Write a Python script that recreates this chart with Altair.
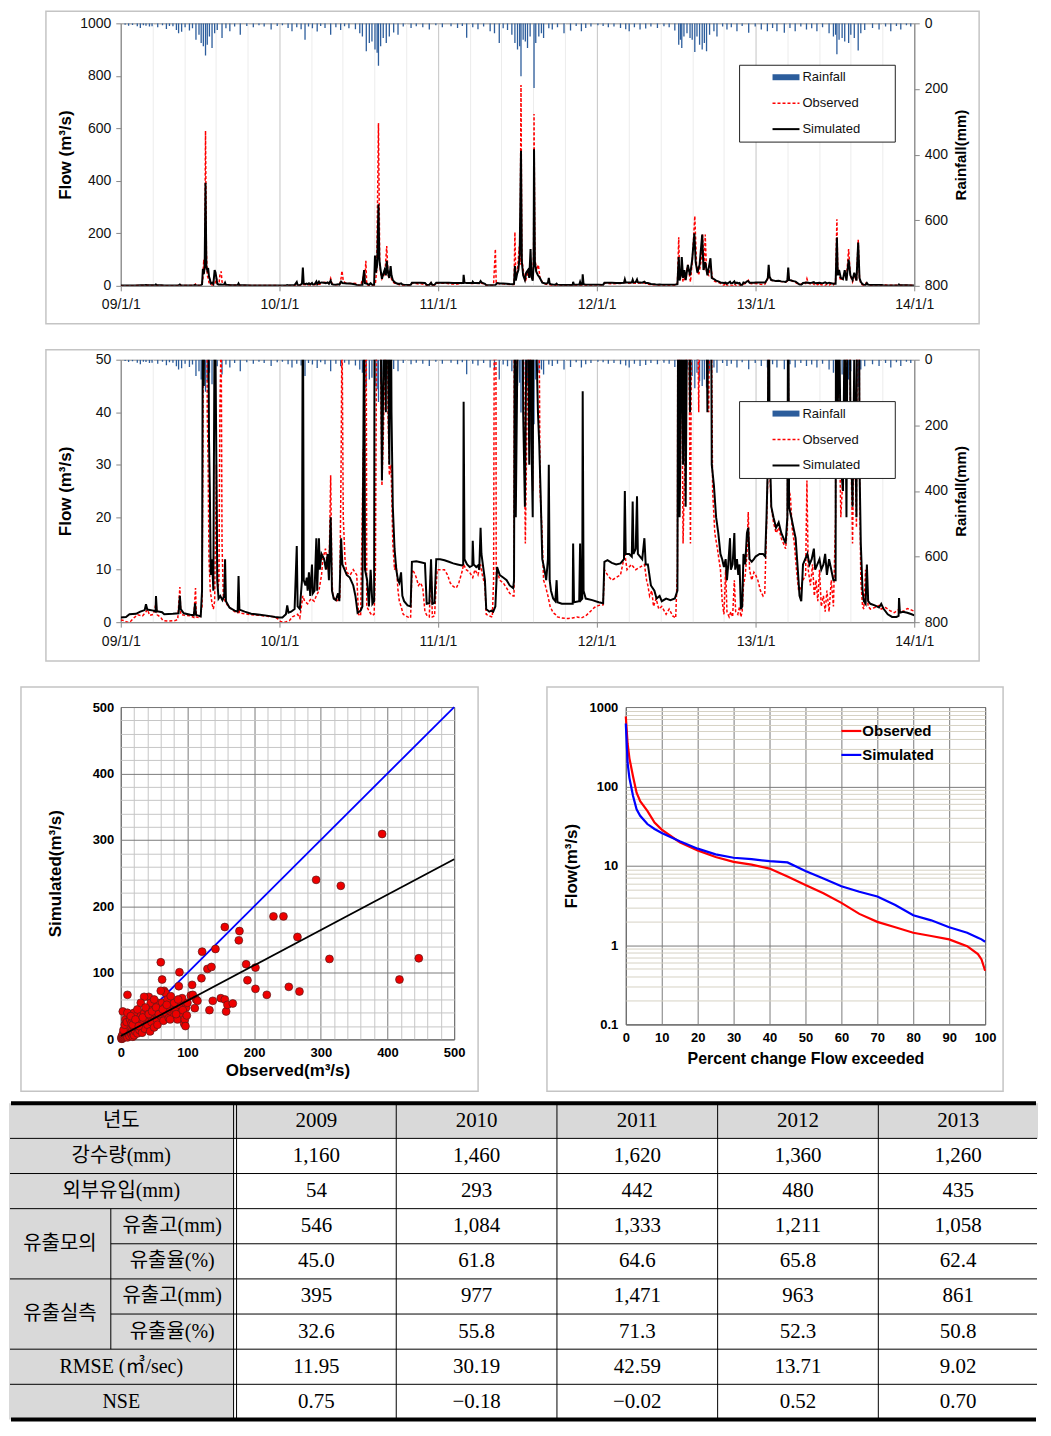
import altair as alt
import pandas as pd

# ------------------------------------------------------------------ data
# daily flow series: (day offset from 2009-01-01, flow m3/s)
sim_series = [
(0,0.9),(12,1.0),(20,1.5),(35,1.6),(45,2.0),(55,2.3),(58,3.4),(61,2.4),(75,2.2),(80,2.0),(81,5.0),(83,2.1),(95,1.9),(100,1.5),(120,1.6),(133,1.7),(136,5.0),(138,2.5),(145,1.7),(160,1.4),(168,1.3),(171,3.6),(173,1.4),(184,1.1),(187,6),(189,65),(191,45),(193,70),(195,393),(197,72),(199,60),(201,68),(203,35),(205,25),(207,9),(210,12),(213,6),(216,60),(218,51),(220,30),(222,8),(225,4.5),(229,5),(234,4.2),(238,5),(240,12),(242,4),(250,2.8),(262,2.2),(269,2.0),(271,8.8),(273,2.4),(285,2.0),(300,1.6),(320,1.4),(340,1.2),(355,1.0),
(365,0.9),(372,0.9),(380,1.5),(383,3.2),(386,1.8),(392,2.0),(400,2.5),(405,14.5),(407,3),(412,2.5),(417,8),(419,70),(421,8),(425,7),(428,8.5),(430,6),(433,9.5),(436,5),(440,11),(442,5.5),(446,6),(450,16),(452,6),(456,16),(458,10),(462,13),(468,12),(472,10),(476,13),(479,8),(483,20),(486,6),(490,4.5),(495,4.2),(500,5.5),(503,4),(507,16),(510,11),(515,10),(520,9),(527,8.5),(535,7),(540,5),(545,1.8),(552,2.2),(556,3),(560,60),(562,10),(567,8),(571,3),(575,10),(579,3.5),(583,4),(585,115),(587,50),(590,80),(593,311),(595,100),(598,60),(601,27),(604,45),(607,60),(610,40),(612,95),(615,50),(618,30),(621,75),(623,40),(626,22),(630,14),(634,10),(638,8),(641,7.5),(645,9.5),(648,5),(652,4),(660,3.2),(667,3),(670,11.5),(680,11.6),(690,11.4),(700,11.2),(704,3.5),(710,3.6),(714,12),(717,3.5),(722,3.7),(726,12),
(735,12),(745,11.8),(755,11.5),(765,11.2),(775,11),(785,10.8),(788,11),(789,42),(791,12),(797,11),(803,10.5),(809,10.8),(810,15.5),(812,11),(818,10.5),(822,10.8),(825,10),(828,18),(830,13),(834,10.5),(838,8),(841,2.5),(848,2),(853,2.2),(857,2.0),(862,3),(866,10.5),(872,9),(880,8.5),(888,8),(895,7),(903,6.5),(905,8),(907,75),(909,20),(912,45),(915,60),(918,120),(921,515),(923,90),(926,40),(930,22),(933,50),(937,60),(940,30),(943,140),(945,35),(948,20),(950,80),(951,520),(953,90),(956,55),(960,40),(963,34),(966,25),(970,12),(975,10),(979,8),(983,12),(985,30),(987,8),(990,6),(995,4.5),(1000,4),(1003,8),(1005,3.8),(1015,3.5),(1030,3.5),(1040,3.5),(1041,15),(1043,3.8),(1055,4),(1057,15),(1059,4.2),(1062,4.5),(1063,44),(1065,6),(1070,4.5),(1085,4.2),(1100,3.8),(1110,3.6),
(1113,11.5),(1120,11.8),(1130,11.3),(1140,11.0),(1150,11.2),(1158,12),(1160,25),(1162,13),(1170,13),(1176,12.5),(1178,23),(1180,13),(1185,14),(1188,24),(1190,13),(1195,12.5),(1200,12),(1205,16),(1208,11),(1213,11),(1220,7),(1228,6),(1233,4.5),(1240,5),(1245,4),(1255,4.5),(1265,4.2),(1275,4.5),(1281,6),(1284,110),(1286,20),(1289,40),(1291,110),(1294,30),(1297,60),(1300,22),(1305,80),(1310,40),(1315,100),(1320,200),(1323,90),(1327,50),(1332,80),(1338,195),(1341,60),(1345,90),(1350,40),(1357,105),(1360,30),(1365,26),(1370,20),(1375,17),(1380,13),(1384,12),(1388,10.5),(1392,12),(1395,8),(1398,11),(1402,16),(1404,10),(1408,11),(1412,17),(1414,10),(1418,12),(1421,9),(1424,11),(1427,2.5),(1430,3),(1433,13),(1437,11),(1441,17),(1444,18),(1447,12),(1452,11.5),(1457,12),
(1461,12.5),(1470,13),(1478,13),(1483,12.5),(1486,20),(1489,30),(1491,80),(1493,35),(1497,22),(1502,20),(1508,18),(1514,19),(1520,17),(1525,16),(1530,15),(1534,20),(1536,70),(1538,22),(1543,20),(1548,18),(1553,16),(1558,10),(1562,5),(1566,4),(1570,11),(1575,12),(1580,13),(1585,11),(1590,12),(1595,14),(1598,10),(1603,11),(1608,12),(1612,10),(1617,11),(1621,13),(1625,9),(1630,12),(1635,10),(1640,8),(1645,8),(1648,184),(1650,40),(1653,60),(1657,30),(1662,25),(1666,60),(1670,20),(1675,100),(1679,40),(1684,22),(1688,50),(1693,20),(1697,165),(1700,30),(1703,15),(1707,6),(1710,4),(1714,3.5),(1717,11),(1720,4),(1725,3.5),(1735,3.2),(1745,2.8),(1750,3.5),(1755,2.6),(1765,1.5),(1775,1.0),(1785,1.0),(1790,1.2),(1791,4.6),(1793,1.8),(1800,2.0),(1810,1.8),(1820,1.5),(1826,1.3)]

obs_series = [
(0,0.4),(8,0.3),(14,0.0),(22,0.1),(30,0.8),(39,1.4),(50,1.2),(58,2.0),(62,2.4),(66,1.3),(75,1.5),(81,3.5),(84,1.4),(92,0.9),(97,0.3),(110,0.2),(125,0.3),(131,0.5),(136,6.7),(138,1.5),(147,1.3),(160,1.2),(168,0.9),(172,6.5),(174,1.0),(182,0.8),(187,3),(189,30),(191,100),(193,60),(195,590),(197,130),(199,40),(201,30),(203,12),(206,6),(210,3.5),(213,2.5),(216,4),(220,30),(223,6),(226,8),(228,40),(231,55),(233,15),(236,5),(240,4),(247,3),(255,2.5),(262,2.0),(269,1.8),(271,3.0),(273,1.8),(285,1.6),(300,1.4),(320,1.3),(340,1.1),(355,1.0),(362,0.6),
(368,0.1),(378,0.0),(388,0.3),(395,1.0),(407,1.5),(412,0.8),(419,5),(423,4),(430,3.5),(438,4.5),(445,4),(450,5),(456,6),(462,9),(465,12),(471,14),(477,10),(480,13),(483,28),(486,8),(488,5),(496,4),(504,4.5),(507,30),(509,57),(512,20),(516,12),(520,9.5),(528,9),(535,10),(543,9),(547,1.5),(552,1.2),(558,33),(561,10),(564,95),(566,3),(572,2),(578,1.3),(583,1.5),(586,10),(589,60),(593,620),(596,80),(599,40),(601,26),(604,35),(608,50),(612,152),(615,40),(618,28),(622,30),(626,15),(630,10),(634,11),(638,6),(641,4),(645,3),(650,1.5),(660,1.0),(667,0.8),(670,10),(675,9.5),(680,8.5),(685,7),(690,7.5),(695,6.5),(700,2),(705,1.2),(710,1),(714,11),(717,1),(722,1.2),(728,10),
(735,10),(745,10),(752,9),(758,7.5),(765,6.8),(772,6.5),(778,7.5),(785,9.5),(789,11),(795,10),(803,9.5),(810,8.5),(815,10),(822,9),(828,11),(832,9),(838,7),(841,1.5),(848,1.2),(855,1.0),(858,8),(862,140),(864,8),(866,10),(872,8),(880,7.5),(888,6.5),(895,5.5),(903,5),(905,5),(907,205),(909,30),(913,60),(917,150),(919,80),(921,765),(923,100),(928,40),(931,15),(935,40),(940,60),(945,40),(948,25),(950,120),(951,655),(953,100),(957,60),(961,80),(965,25),(969,18),(973,8),(977,7),(983,5),(988,3),(995,1.8),(1000,1.5),(1005,1.0),(1015,0.8),(1030,0.7),(1040,0.8),(1050,1.0),(1060,0.8),(1070,1.2),(1080,2),(1090,2.8),(1100,3.2),(1110,3.3),
(1113,10),(1120,9),(1130,8),(1140,8.5),(1150,9),(1160,13),(1165,10),(1175,11),(1185,10),(1195,10.5),(1205,11),(1210,8),(1213,7),(1217,5),(1222,6),(1226,3),(1232,4.5),(1238,2.5),(1245,3),(1255,1.5),(1262,2.5),(1270,1.2),(1277,0.8),(1281,10),(1284,185),(1286,30),(1290,60),(1294,15),(1300,40),(1305,80),(1311,15),(1315,90),(1321,266),(1325,80),(1330,40),(1336,100),(1339,195),(1342,60),(1345,195),(1348,50),(1353,40),(1357,80),(1362,25),(1367,17),(1373,14),(1380,10),
(1384,4),(1388,1.5),(1392,10),(1395,2),(1400,1),(1404,2),(1408,1),(1412,8),(1415,2),(1420,1.5),(1424,3),(1427,1),(1430,2),(1433,7),(1437,9),(1441,13),(1444,21),(1447,10),(1452,8),(1457,9.5),(1461,9),(1466,8),(1472,6),(1478,5),(1482,5.5),(1486,18),(1489,28),(1491,60),(1493,30),(1497,22),(1502,19),(1508,17),(1514,18),(1520,16),(1525,15),(1530,14),(1534,18),(1536,50),(1538,25),(1541,24),(1545,18),(1550,15),(1555,10),(1560,6),(1565,6.5),(1570,8),(1576,9),(1579,27),(1582,10),(1587,7),(1592,11),(1596,5),(1600,8),(1604,4),(1608,10),(1612,3),(1617,5),(1621,2),(1625,6),(1630,2),(1635,8),(1640,3),(1645,20),(1648,254),(1650,50),(1653,40),(1657,20),(1662,28),(1666,50),(1670,30),(1675,140),(1679,40),(1684,15),(1688,40),(1693,18),(1697,175),(1700,30),(1703,8),(1707,3),(1710,2.5),(1714,10),(1717,6),(1720,3),(1725,2.5),(1735,2.8),(1745,3.2),(1750,2.5),(1760,2.8),(1770,2.2),(1780,1.8),(1790,2.4),(1800,2.0),(1810,2.6),(1820,2.3),(1826,2.1)]

# daily rainfall: (day offset from 2009-01-01, mm)
rain_series = [
(10,4),(18,7),(27,5),(38,9),(45,14),(52,6),(58,7),(66,10),(72,9),(85,12),(96,6),(105,17),(112,8),(120,9),(128,20),(133,30),(140,26),(148,12),(158,22),(165,15),(173,50),(180,35),(185,60),(190,70),(195,98),(199,65),(204,40),(210,75),(216,30),(222,20),(233,45),(242,15),(251,24),(262,10),(275,35),(290,8),(305,12),(318,6),(330,10),(346,19),(360,8),
(372,6),(385,14),(394,24),(405,12),(415,18),(424,50),(432,10),(441,15),(452,25),(460,8),(470,14),(483,35),(495,12),(506,20),(515,9),(525,15),(540,18),(550,30),(556,40),(565,85),(572,60),(578,55),(585,80),(590,90),(593,129),(598,70),(604,45),(611,60),(618,40),(628,28),(638,35),(650,10),(668,14),(680,9),(695,12),(710,19),(725,6),
(740,12),(760,9),(775,14),(786,8),(796,44),(810,12),(822,18),(835,10),(850,24),(860,30),(871,60),(880,15),(890,20),(900,35),(907,60),(913,80),(918,70),(921,161),(926,50),(931,55),(936,75),(942,40),(951,197),(955,60),(962,40),(968,30),(973,45),(985,15),(993,19),(1005,12),(1020,30),(1035,22),(1048,8),(1060,24),(1070,14),(1082,10),
(1098,6),(1110,8),(1122,12),(1135,10),(1150,14),(1162,18),(1170,24),(1182,12),(1195,19),(1208,16),(1220,10),(1235,14),(1250,9),(1262,12),(1275,22),(1284,65),(1288,50),(1291,75),(1296,40),(1303,30),(1310,45),(1315,50),(1321,87),(1326,40),(1332,65),(1338,80),(1343,60),(1348,85),(1355,35),(1365,24),(1372,40),(1385,10),(1395,19),(1405,12),(1418,24),(1430,8),(1445,29),
(1460,10),(1474,19),(1488,24),(1500,14),(1510,24),(1527,29),(1540,14),(1552,24),(1565,10),(1578,19),(1590,15),(1602,24),(1615,12),(1630,30),(1640,40),(1645,35),(1648,94),(1653,50),(1660,45),(1666,55),(1675,60),(1680,35),(1688,45),(1697,83),(1703,30),(1712,20),(1730,14),(1745,19),(1760,10),(1772,24),(1785,8),(1795,19),(1808,6),(1818,10)]

# scatter: (observed, simulated) m3/s
scatter_pts = [
(1,1),(2,1),(1,3),(3,2),(2,5),(4,3),(5,6),(3,8),(6,4),(7,9),(8,5),(5,12),(9,7),(10,3),(10,10),(12,8),(11,14),(13,5),(14,11),(15,16),(16,8),(12,20),(8,18),(17,13),(18,4),(19,10),(20,15),(4,14),(6,22),(7,30),(9,26),(3,42),(10,67),(14,30),(16,24),(20,6),(22,12),(24,18),(25,9),(26,28),(28,14),(30,20),(29,36),(32,10),(34,25),(35,40),(36,16),(38,30),(40,22),(40,45),(42,64),(35,64),(44,12),(45,35),(46,26),(48,50),(50,18),(52,40),(54,30),(55,22),(56,55),(58,45),(60,35),(60,116),(62,90),(62,55),(64,28),(65,73),(67,70),(60,73),(66,48),(68,40),(70,60),(72,32),(75,42),(78,50),(80,35),(82,45),(85,30),(88,101),(87,80),(88,52),(90,40),(92,62),(95,24),(96,30),(97,20),(98,48),(100,55),(105,66),(107,82),(108,67),(111,47),(113,60),(115,58),(121,92),(122,132),(130,106),(133,44),(136,109),(138,58),(142,136),(150,62),(156,169),(156,60),(158,42),(160,52),(168,54),(177,149),(178,163),(188,113),(190,89),(202,108),(202,76),(219,67),(229,185),(244,185),(252,79),(265,154),(268,72),(293,240),(313,121),(330,231),(392,309),(418,90),(447,122),(10,40),(20,40),(25,45),(30,55),(15,35),(45,55),(50,60),(70,45),(80,55),(75,65),(18,22),(22,30),(27,20),(33,33),(37,48),(42,38),(47,42),(53,48),(57,38),(63,45),(69,52),(74,30),(83,38),(86,60),(93,44),(99,36)]
one_to_one_obs = [0, 500]
one_to_one_sim = [0, 500]
trend_obs = [0, 500]
trend_sim = [5, 271]

# flow duration curve
fdc_pct = [0,0.5,1,2,3,4,6,8,10,15,20,25,30,35,40,45,50,55,60,65,70,75,80,85,90,95,98,99,100]
fdc_obs = [760,347,227,134,83,65,49,35,28.5,19.8,15.6,12.9,11.2,10.3,9.2,7.3,5.7,4.5,3.4,2.47,1.96,1.68,1.43,1.30,1.18,0.97,0.77,0.66,0.475]
fdc_sim = [620,197,128,76,51.5,42.6,33.5,29,25.9,20.4,16.4,13.9,12.6,12.1,11.4,11.0,8.6,6.9,5.5,4.7,4.1,3.2,2.37,2.05,1.68,1.43,1.24,1.18,1.10]

# table
tbl_years = [2009, 2010, 2011, 2012, 2013]
tbl_rain = [1160, 1460, 1620, 1360, 1260]
tbl_inflow = [54, 293, 442, 480, 435]
tbl_sim_depth = [546, 1084, 1333, 1211, 1058]
tbl_sim_ratio = [45.0, 61.8, 64.6, 65.8, 62.4]
tbl_obs_depth = [395, 977, 1471, 963, 861]
tbl_obs_ratio = [32.6, 55.8, 71.3, 52.3, 50.8]
tbl_rmse = [11.95, 30.19, 42.59, 13.71, 9.02]
tbl_nse = [0.75, -0.18, -0.02, 0.52, 0.70]

# ------------------------------------------------------------------ frames
BASE = pd.Timestamp("2009-01-01")


def to_dates(days):
    return [(BASE + pd.Timedelta(days=d)).strftime("%Y-%m-%d") for d in days]


sim_df = pd.DataFrame({"date": to_dates([p[0] for p in sim_series]), "flow": [p[1] for p in sim_series]})
obs_df = pd.DataFrame({"date": to_dates([p[0] for p in obs_series]), "flow": [p[1] for p in obs_series]})
rain_df = pd.DataFrame({"date": to_dates([p[0] for p in rain_series]), "rain": [p[1] for p in rain_series]})
one = pd.DataFrame({"k": [0]})

FONT = "Liberation Sans"
RAIN_C = "#2c5d9c"
X0 = 120          # common page x of every row's plot origin
L = 8 - X0        # left page edge relative to origin
RGT = 1041 - X0   # right page edge relative to origin


def box(x1, x2, y1, y2, **kw):
    return alt.Chart(one).mark_rect(**kw).encode(
        x=alt.value(x1), x2=alt.value(x2), y=alt.value(y1), y2=alt.value(y2))


def anchor(x1, x2, y1, y2):
    return box(x1, x2, y1, y2, fill="white", opacity=0)


def hline(x1, x2, y, **kw):
    return alt.Chart(one).mark_rule(**kw).encode(x=alt.value(x1), x2=alt.value(x2), y=alt.value(y))


def label(txt, x, y, **kw):
    return alt.Chart(one).mark_text(text=txt, align="left", baseline="middle", **kw).encode(
        x=alt.value(x), y=alt.value(y))


def cond(test, a, b):
    return {"condition": {"test": test, "value": a}, "value": b}


# ------------------------------------------------------------------ time-series panels
tick_dates = []
for yr in range(2009, 2014):
    for (m, d) in [(1, 1), (3, 15), (5, 27), (8, 8), (10, 20)]:
        tick_dates.append(alt.DateTime(year=yr, month=m, date=d, utc=True))
tick_dates.append(alt.DateTime(year=2014, month=1, date=1, utc=True))
is_year = "utcmonth(datum.value) == 0 && utcdate(datum.value) == 1"

x_axis = alt.Axis(values=tick_dates,
                  labelExpr=f"{is_year} ? utcFormat(datum.value, '%y/%-m/%-d') : ''",
                  gridColor=cond(is_year, "#c4c4c4", "#ececec"),
                  tickColor=cond(is_year, "#888888", "transparent"),
                  domainColor="#888888", tickSize=5, labelPadding=7,
                  labelFont=FONT, labelFontSize=14, labelColor="#111", labelFlush=False,
                  labelOverlap=False)
x_enc = alt.X("date:T", title=None, axis=x_axis,
              scale=alt.Scale(type="utc", nice=False,
                              domain=[alt.DateTime(year=2009, month=1, date=1, utc=True),
                                      alt.DateTime(year=2014, month=1, date=1, utc=True)]))

TS_W = 915 - X0


def ts_panel(ymax, step, major, title_pad, top_anchor, bottom_anchor, frame_top, frame_bottom):
    H = 263
    maj = f"datum.value % {major} == 0"
    flow_axis = alt.Axis(values=list(range(0, ymax + 1, step)), orient="left",
                         labelExpr=f"{maj} ? datum.label : ''", format="d",
                         gridColor=cond(maj, "#c8c8c8", "#ededed"),
                         tickColor=cond(maj, "#888888", "transparent"),
                         domainColor="#888888", tickSize=5, labelPadding=5,
                         labelFont=FONT, labelFontSize=14, labelColor="#111", labelFlush=False,
                         labelOverlap=False,
                         title="Flow (m³/s)", titleFont=FONT, titleFontSize=17,
                         titleFontWeight="bold", titlePadding=title_pad, titleColor="#000")
    rain_axis = alt.Axis(values=[0, 200, 400, 600, 800], orient="right", grid=False,
                         tickColor="#888888", domainColor="#888888", tickSize=5, labelPadding=5,
                         labelFont=FONT, labelFontSize=14, labelColor="#111", labelFlush=False,
                         title="Rainfall(mm)", titleFont=FONT, titleFontSize=15,
                         titleFontWeight="bold", titleAngle=270, titleBaseline="top",
                         titlePadding=6, titleColor="#000")
    y_flow = alt.Y("flow:Q", axis=flow_axis, scale=alt.Scale(domain=[0, ymax], nice=False, zero=True))

    rain = alt.Chart(rain_df).mark_rule(color=RAIN_C, strokeWidth=1.3, clip=True).encode(
        x=x_enc,
        y=alt.Y("rain:Q", axis=rain_axis, scale=alt.Scale(domain=[0, 800], reverse=True, nice=False)),
        y2=alt.datum(0))
    obs = alt.Chart(obs_df).mark_line(color="#ff0000", strokeWidth=1.5, strokeDash=[3, 2], clip=True).encode(
        x=x_enc, y=y_flow)
    sim = alt.Chart(sim_df).mark_line(color="#000000", strokeWidth=2, clip=True).encode(
        x=x_enc, y=y_flow)
    lines = alt.layer(obs, sim)

    lx = 740 - X0
    leg = [
        box(lx, lx + 156, 42, 119, fill="white", stroke="#222", strokeWidth=1),
        box(lx + 33, lx + 60, 51, 57, fill=RAIN_C),
        hline(lx + 33, lx + 60, 80, color="#ff0000", strokeDash=[3, 2], strokeWidth=1.5),
        hline(lx + 33, lx + 60, 106, color="#000", strokeWidth=2),
        label("Rainfall", lx + 63, 54, font=FONT, fontSize=13, color="#111"),
        label("Observed", lx + 63, 80, font=FONT, fontSize=13, color="#111"),
        label("Simulated", lx + 63, 106, font=FONT, fontSize=13, color="#111"),
    ]
    ch = alt.layer(
        anchor(L, RGT, top_anchor, bottom_anchor),
        box(45 - X0, 980 - X0, frame_top, frame_bottom, fill="transparent", stroke="#c4c4c4", strokeWidth=1.5),
        rain, lines, *leg
    ).resolve_scale(y="independent").properties(
        width=TS_W, height=H, view=alt.ViewBackground(stroke="#8c8c8c", strokeWidth=1))
    return ch


ts1 = ts_panel(1000, 40, 200, 5, -10, 318, -12, 301)
ts2 = ts_panel(50, 2, 10, 21, -17, 313, -10, 302)

# ------------------------------------------------------------------ scatter panel
sc_df = pd.DataFrame({"obs": [p[0] for p in scatter_pts], "sim": [p[1] for p in scatter_pts]})
l11_df = pd.DataFrame({"obs": one_to_one_obs, "sim": one_to_one_sim})
trend_df = pd.DataFrame({"obs": trend_obs, "sim": trend_sim})

sc_maj = "datum.value % 100 == 0"


def sc_axis(title, pad):
    return alt.Axis(values=list(range(0, 501, 20)), labelExpr=f"{sc_maj} ? datum.label : ''",
                    gridColor=cond(sc_maj, "#7a7a7a", "#c6c6c6"), ticks=False, domain=False,
                    labelFont=FONT, labelFontSize=13, labelFontWeight="bold", labelColor="#000",
                    labelPadding=7, labelFlush=False, labelOverlap=False,
                    title=title, titleFont=FONT, titleFontSize=17, titleFontWeight="bold",
                    titlePadding=pad, titleColor="#000")


sx = alt.X("obs:Q", scale=alt.Scale(domain=[0, 500], nice=False), axis=sc_axis("Observed(m³/s)", 3))
sy = alt.Y("sim:Q", scale=alt.Scale(domain=[0, 500], nice=False), axis=sc_axis("Simulated(m³/s)", 28))

ROW3_Y = 703      # common page y of scatter / FDC plot origins
R3_TOP = 670 - ROW3_Y
R3_BOT = 1092 - ROW3_Y
SC_W = 454 - X0
scatter = alt.layer(
    anchor(L, 512 - X0, R3_TOP, R3_BOT),
    box(20 - X0, 478 - X0, 683 - ROW3_Y, 1088 - ROW3_Y, fill="transparent", stroke="#c4c4c4", strokeWidth=1.5),
    alt.Chart(l11_df).mark_line(color="#0000ff", strokeWidth=1.8).encode(x=sx, y=sy),
    alt.Chart(sc_df).mark_point(filled=True, shape="circle", size=62, fill="#ee0000",
                                stroke="#5a1a1a", strokeWidth=0.7, opacity=1).encode(x=sx, y=sy),
    alt.Chart(trend_df).mark_line(color="#000000", strokeWidth=1.8).encode(x=sx, y=sy),
).properties(width=SC_W, height=1036 - ROW3_Y, view=alt.ViewBackground(stroke="#3c3c3c", strokeWidth=1))

# ------------------------------------------------------------------ flow duration panel
fdc_df_obs = pd.DataFrame({"pct": fdc_pct, "flow": fdc_obs})
fdc_df_sim = pd.DataFrame({"pct": fdc_pct, "flow": fdc_sim})
log_vals = []
for dec in [0.1, 1, 10, 100]:
    for k in range(1, 10):
        log_vals.append(round(dec * k, 6))
log_vals.append(1000)
dec_test = "indexof([0.1, 1, 10, 100, 1000], datum.value) >= 0"

fx = alt.X("pct:Q", scale=alt.Scale(domain=[0, 100], nice=False),
           axis=alt.Axis(values=list(range(0, 101, 10)), gridColor="#7a7a7a", ticks=False, domain=False,
                         labelFont=FONT, labelFontSize=13, labelFontWeight="bold", labelColor="#000",
                         labelPadding=7, labelFlush=False,
                         title="Percent change Flow exceeded", titleFont=FONT, titleFontSize=16,
                         titleFontWeight="bold", titlePadding=6, titleColor="#000"))
fy = alt.Y("flow:Q", scale=alt.Scale(type="log", domain=[0.1, 1000], nice=False),
           axis=alt.Axis(values=log_vals, format="~g", labelExpr=f"{dec_test} ? datum.label : ''",
                         gridColor=cond(dec_test, "#7a7a7a", "#d6d2c4"), ticks=False, domain=False,
                         labelFont=FONT, labelFontSize=13, labelFontWeight="bold", labelColor="#000",
                         labelPadding=8, labelFlush=False, labelOverlap=False,
                         title="Flow(m³/s)", titleFont=FONT, titleFontSize=17, titleFontWeight="bold",
                         titlePadding=8, titleColor="#000"))

FX0 = 624
fdc = alt.layer(
    anchor(512 - FX0, 1041 - FX0, R3_TOP, R3_BOT),
    box(545 - FX0, 1002 - FX0, 683 - ROW3_Y, 1088 - ROW3_Y, fill="transparent", stroke="#c4c4c4", strokeWidth=1.5),
    alt.Chart(fdc_df_obs).mark_line(color="#ff0000", strokeWidth=2.2).encode(x=fx, y=fy),
    alt.Chart(fdc_df_sim).mark_line(color="#0000ff", strokeWidth=2.2).encode(x=fx, y=fy),
    hline(216, 236, 727 - ROW3_Y, color="#ff0000", strokeWidth=2.2),
    hline(216, 236, 751 - ROW3_Y, color="#0000ff", strokeWidth=2.2),
    label("Observed", 237, 727 - ROW3_Y, font=FONT, fontSize=15, fontWeight="bold", color="#000"),
    label("Simulated", 237, 751 - ROW3_Y, font=FONT, fontSize=15, fontWeight="bold", color="#000"),
).properties(width=984 - FX0, height=1021 - ROW3_Y, view=alt.ViewBackground(stroke="#1e1e1e", strokeWidth=1))

row3 = alt.concat(scatter, fdc, columns=2, spacing=0, align="none")

# ------------------------------------------------------------------ table
TW, TH = 1031, 322
T0, R = 3, 35.2
edges = [T0 + k * R for k in range(10)]
ctr = [edges[k] + R / 2 for k in range(9)]
col_edges = [228, 388, 549, 710, 871, 1031]
col_ctr = [(col_edges[i] + col_edges[i + 1]) / 2 for i in range(5)]


def fmt_int(v):
    return f"{v:,}"


def fmt_1(v):
    return f"{v:.1f}"


def fmt_2(v):
    return f"{v:.2f}".replace("-", "−")


value_rows = [
    [str(y) for y in tbl_years],
    [fmt_int(v) for v in tbl_rain],
    [fmt_int(v) for v in tbl_inflow],
    [fmt_int(v) for v in tbl_sim_depth],
    [fmt_1(v) for v in tbl_sim_ratio],
    [fmt_int(v) for v in tbl_obs_depth],
    [fmt_1(v) for v in tbl_obs_ratio],
    [fmt_2(v) for v in tbl_rmse],
    [fmt_2(v) for v in tbl_nse],
]
val_recs = []
for r, row in enumerate(value_rows):
    for c, txt in enumerate(row):
        val_recs.append({"x": col_ctr[c], "y": ctr[r], "t": txt})
val_df = pd.DataFrame(val_recs)

lab_df = pd.DataFrame([
    {"x": 112.5, "y": ctr[0], "t": "년도"},
    {"x": 112.5, "y": ctr[1], "t": "강수량(mm)"},
    {"x": 112.5, "y": ctr[2], "t": "외부유입(mm)"},
    {"x": 51, "y": edges[4], "t": "유출모의"},
    {"x": 163.5, "y": ctr[3], "t": "유출고(mm)"},
    {"x": 163.5, "y": ctr[4], "t": "유출율(%)"},
    {"x": 51, "y": edges[6], "t": "유출실측"},
    {"x": 163.5, "y": ctr[5], "t": "유출고(mm)"},
    {"x": 163.5, "y": ctr[6], "t": "유출율(%)"},
    {"x": 112.5, "y": ctr[7], "t": "RMSE (㎥/sec)"},
    {"x": 112.5, "y": ctr[8], "t": "NSE"},
])

fill_df = pd.DataFrame([
    {"x1": 0, "x2": TW, "y1": edges[0], "y2": edges[1]},
    {"x1": 0, "x2": 225, "y1": edges[1], "y2": edges[9]},
])
thin = []
for k in range(1, 9):
    thin.append({"x1": 102 if k in (4, 6) else 1, "x2": TW - 1, "y1": edges[k], "y2": edges[k]})
thin.append({"x1": 102, "x2": 102, "y1": edges[3], "y2": edges[7]})
for xv in [225, 228] + col_edges[1:5]:
    thin.append({"x1": xv, "x2": xv, "y1": edges[0], "y2": edges[9]})
thin_df = pd.DataFrame(thin)
thick_df = pd.DataFrame([
    {"x1": 2, "x2": TW - 2, "y1": edges[0], "y2": edges[0]},
    {"x1": 2, "x2": TW - 2, "y1": edges[9], "y2": edges[9]},
])

# table units: page x = value + 8, plot origin sits at page X0
T_OFF = X0 - 8
tx = alt.Scale(domain=[T_OFF, TW], nice=False, zero=False)
ty = alt.Scale(domain=[0, TH], nice=False, zero=False, reverse=True)


def seg_enc():
    return dict(x=alt.X("x1:Q", scale=tx, axis=None), x2="x2:Q",
                y=alt.Y("y1:Q", scale=ty, axis=None), y2="y2:Q")


table = alt.layer(
    anchor(L, RGT, -3, 322),
    alt.Chart(fill_df).mark_rect(fill="#d9d9d9").encode(**seg_enc()),
    alt.Chart(thin_df).mark_rule(color="#000", strokeWidth=1).encode(**seg_enc()),
    alt.Chart(thick_df).mark_rule(color="#000", strokeWidth=4).encode(**seg_enc()),
    alt.Chart(val_df).mark_text(font="Liberation Serif", fontSize=21, color="#000", baseline="middle").encode(
        x=alt.X("x:Q", scale=tx, axis=None), y=alt.Y("y:Q", scale=ty, axis=None), text="t:N"),
    alt.Chart(lab_df).mark_text(font="Liberation Serif, Noto Sans CJK KR", fontSize=20, color="#000",
                                baseline="middle").encode(
        x=alt.X("x:Q", scale=tx, axis=None), y=alt.Y("y:Q", scale=ty, axis=None), text="t:N"),
).properties(width=TW - T_OFF, height=TH, view=alt.ViewBackground(stroke="transparent"))

# ------------------------------------------------------------------ compose
chart = alt.concat(ts1, ts2, row3, table, columns=1, spacing=0, align="none").properties(
    padding=0, background="white")

chart.save("out.html", embed_options={"renderer": "svg", "actions": False})
